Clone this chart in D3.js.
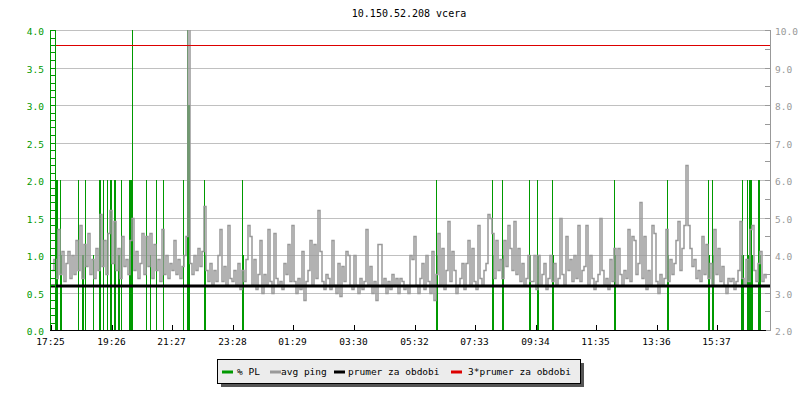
<!DOCTYPE html>
<html><head><meta charset="utf-8">
<script src="https://cdn.jsdelivr.net/npm/d3@7"></script>
<style>
body{margin:0;background:#fff}
text{font-family:"DejaVu Sans Mono",monospace}
</style>
</head><body>
<svg id="c" width="800" height="400"></svg>
<script>
const title = "10.150.52.208 vcera";
const startLabel = "17:25";
const spanMinutes = 1430;
const sampleStepMinutes = 4;
const tickLabels = ["17:25","19:26","21:27","23:28","01:29","03:30","05:32","07:33","09:34","11:35","13:36","15:37"];
const leftTicks = [0,0.5,1,1.5,2,2.5,3,3.5,4];
const rightTicks = [2,3,4,5,6,7,8,9,10];
// avg ping (ms), one value every 4 minutes from 17:25
const avgPing = [
3.6,3.9,3.4,4.7,3.5,4.1,3.3,3.8,4.1,3.4,4.0,3.5,4.4,3.6,4.8,3.4,4.3,3.7,4.6,3.5,3.9,3.4,4.2,3.6,5.1,3.7,4.4,3.5,4.6,5.2,
3.8,4.9,3.6,4.2,3.4,4.5,3.7,3.9,3.5,4.4,5.0,3.6,4.1,3.4,3.8,4.6,3.5,4.5,3.7,4.6,3.4,4.3,3.6,3.9,3.3,4.7,3.5,4.0,3.4,3.8,
3.6,4.4,3.5,3.9,3.4,3.7,4.0,4.5,12,3.8,3.5,4.0,3.6,4.2,3.7,4.1,5.3,3.6,3.3,3.8,3.2,3.6,3.3,4.0,4.7,3.3,3.7,3.2,4.8,3.4,
3.3,3.6,3.2,3.8,3.1,3.6,3.3,3.9,4.8,4.5,3.2,3.9,3.1,3.5,4.4,3.0,3.5,3.2,4.7,3.3,3.0,4.6,3.4,3.2,3.3,3.1,3.8,3.5,4.3,3.3,
4.8,3.3,3.0,3.4,3.1,4.1,2.8,3.3,3.6,4.4,3.2,4.3,3.4,5.2,4.1,3.3,3.1,3.5,3.4,3.1,4.4,3.2,3.0,3.8,2.9,3.7,3.3,4.1,4.0,3.2,
3.1,4.0,3.2,3.0,3.4,3.1,3.3,4.7,3.2,3.7,3.0,3.3,2.8,4.3,4.3,3.2,3.4,3.0,3.3,3.1,3.5,3.2,3.4,3.0,3.4,3.3,3.1,3.2,3.0,4.0,
3.9,4.5,3.2,3.0,3.4,3.8,3.1,4.0,3.3,3.0,4.1,2.8,3.5,4.6,3.2,4.2,3.1,3.6,4.9,3.3,4.1,3.6,3.0,3.2,3.4,3.8,3.1,3.8,4.4,3.2,
4.2,3.3,3.1,4.8,3.4,3.2,3.6,3.8,5.1,5.0,4.6,3.4,4.4,3.6,3.9,3.4,4.4,3.7,4.8,4.2,3.6,4.9,3.5,4.2,3.3,3.8,3.2,3.4,4.0,3.3,
3.3,4.0,3.1,4.0,3.2,3.5,3.8,3.1,3.4,4.0,3.3,3.8,3.2,3.4,5.0,3.5,3.2,4.5,3.6,3.9,3.3,4.0,3.4,4.8,3.3,3.6,3.7,4.8,3.2,4.0,
3.4,3.1,3.3,3.5,5.0,3.6,3.2,3.4,3.1,3.9,3.3,4.2,3.2,4.2,3.5,3.2,3.6,3.4,4.7,3.3,4.5,4.4,3.5,3.8,5.4,3.4,4.5,3.1,3.6,3.2,
4.8,4.6,3.3,3.0,3.5,3.2,3.4,4.7,3.3,3.9,3.5,3.8,4.4,4.9,3.6,4.2,4.8,6.4,4.8,4.2,3.7,3.9,3.4,3.6,3.3,4.5,3.5,4.3,3.4,3.8,
3.2,4.7,3.5,4.2,3.3,3.7,3.2,3.0,3.4,3.3,3.4,3.1,3.3,3.6,4.9,3.4,3.2,3.9,3.3,4.7,4.8,3.6,3.3,3.8,4.1,3.3,3.5,3.4
];
// packet loss events: minutes after 17:25 and % PL
const plMinutes = [8,10,12,18,20,54,62,64,68,84,96,98,104,112,118,120,126,128,134,136,140,156,158,160,162,190,198,210,224,264,272,274,276,306,308,382,384,770,772,882,884,902,904,956,958,972,974,1002,1004,1126,1128,1232,1234,1314,1316,1322,1324,1380,1382,1384,1392,1394,1396,1398,1400,1402,1414,1416,1418];
const plValues  = [2,2,2,2,1,2,1,1,2,1,2,2,2,2,2,2,2,2,1,1,2,2,2,2,4,2,1,2,2,2,4,3,3,2,1,2,1,2,1,2,1,2,1,2,1,2,1,2,1,2,1,2,1,2,1,2,1,1,2,1,2,1,2,2,2,1,2,2,1];
const meanPing = 3.18;
const tripleMeanPing = 9.6;
const legendLabels = ["% PL","avg ping","prumer za obdobi","3*prumer za obdobi"];

const C = {green:"#009900", gray:"#999999", black:"#000000", red:"#dd0000", grid:"#c0c0c0"};
const svg = d3.select("#c");
const L = 51, R = 766, T = 30, B = 330, RA = 770;

const [sh, sm] = startLabel.split(":").map(Number);
const base = new Date(2024, 0, 1, sh, sm);
const addMin = m => new Date(base.getTime() + m * 60000);
const x = d3.scaleTime().domain([base, addMin(spanMinutes)]).range([L + 0.5, R + 0.5]);
const yL = d3.scaleLinear().domain([0, 4]).range([B, T]);
const yR = d3.scaleLinear().domain([2, 10]).range([B, T]);

let prev = base, dayOff = 0;
const tickDates = tickLabels.map(s => {
  const [h, m] = s.split(":").map(Number);
  let d = new Date(2024, 0, 1 + dayOff, h, m);
  if (d < prev) { dayOff++; d = new Date(2024, 0, 1 + dayOff, h, m); }
  prev = d; return d;
});
const fmt = d3.timeFormat("%H:%M");

svg.append("text").attr("x", 409).attr("y", 17).attr("text-anchor", "middle")
  .attr("font-size", 10).attr("fill", "#000").text(title);

const gGrid = svg.append("g");
leftTicks.filter(v => v > 0).forEach(v => {
  const yy = Math.round(yL(v)) + 0.5;
  gGrid.append("line").attr("x1", L).attr("x2", RA).attr("y1", yy).attr("y2", yy)
    .attr("stroke", C.grid).attr("stroke-width", 1);
});

svg.append("clipPath").attr("id", "plot").append("rect")
  .attr("x", L).attr("y", T).attr("width", RA - L).attr("height", B - T);

const gData = svg.append("g").attr("clip-path", "url(#plot)");

gData.selectAll("rect.pl").data(plMinutes.map((m, i) => ({t: addMin(m), v: plValues[i]})))
  .enter().append("rect").attr("class", "pl")
  .attr("x", d => Math.floor(x(d.t))).attr("width", 1)
  .attr("y", d => yL(d.v)).attr("height", d => yL(0) - yL(d.v))
  .attr("fill", C.green);

// avg ping: step line
const pingData = avgPing.map((v, i) => ({t: addMin(i * sampleStepMinutes), v}));
gData.append("path").datum(pingData)
  .attr("d", d3.line().x(d => Math.floor(x(d.t)) + 1).y(d => Math.round(yR(d.v)) + 0.5).curve(d3.curveStepAfter))
  .attr("fill", "none").attr("stroke", C.gray).attr("stroke-width", 1.5);

svg.append("line").attr("x1", L).attr("x2", RA)
  .attr("y1", yR(tripleMeanPing) + 0.5).attr("y2", yR(tripleMeanPing) + 0.5)
  .attr("stroke", C.red).attr("stroke-width", 1);
svg.append("line").attr("x1", L).attr("x2", RA)
  .attr("y1", Math.round(yR(meanPing))).attr("y2", Math.round(yR(meanPing)))
  .attr("stroke", C.black).attr("stroke-width", 3);

const gL = svg.append("g");
gL.append("line").attr("x1", L - 0.5).attr("x2", L - 0.5).attr("y1", T).attr("y2", B)
  .attr("stroke", C.green);
gL.append("line").attr("x1", L + 4.5).attr("x2", L + 4.5).attr("y1", T).attr("y2", B)
  .attr("stroke", C.green);
d3.range(0, 41).forEach(k => {
  const yy = Math.round(yL(k / 10)) + 0.5;
  gL.append("line").attr("x1", L - 1).attr("x2", L + 5).attr("y1", yy).attr("y2", yy)
    .attr("stroke", C.green);
});
leftTicks.forEach(v => {
  gL.append("text").attr("x", 44).attr("y", yL(v) + 5).attr("text-anchor", "end")
    .attr("font-size", 9.5).attr("fill", C.green).text(v.toFixed(1));
});

const gR = svg.append("g");
gR.append("line").attr("x1", RA + 0.5).attr("x2", RA + 0.5).attr("y1", T).attr("y2", B)
  .attr("stroke", C.gray);
d3.range(0, 17).forEach(k => {
  const yy = Math.round(yR(2 + k / 2)) + 0.5;
  gR.append("line").attr("x1", RA - 5).attr("x2", RA + 1).attr("y1", yy).attr("y2", yy)
    .attr("stroke", C.gray);
});
rightTicks.forEach(v => {
  gR.append("text").attr("x", 775).attr("y", yR(v) + 5).attr("text-anchor", "start")
    .attr("font-size", 9.5).attr("fill", C.gray).text(v.toFixed(1));
});

const gB = svg.append("g");
gB.append("line").attr("x1", L - 1).attr("x2", R).attr("y1", B + 0.5).attr("y2", B + 0.5)
  .attr("stroke", "#000");
tickDates.forEach(d => {
  const xx = Math.floor(x(d)) + 0.5;
  gB.append("line").attr("x1", xx).attr("x2", xx).attr("y1", B - 5).attr("y2", B)
    .attr("stroke", "#000");
  gB.append("text").attr("x", xx - 1).attr("y", 345).attr("text-anchor", "middle")
    .attr("font-size", 9.5).attr("fill", "#000").text(fmt(d));
});

const gLeg = svg.append("g");
gLeg.append("rect").attr("x", 221).attr("y", 363).attr("width", 363).attr("height", 24).attr("fill", "#555");
gLeg.append("rect").attr("x", 217.5).attr("y", 359.5).attr("width", 363).attr("height", 24)
  .attr("fill", "#ececec").attr("stroke", "#000");
const legColors = [C.green, C.gray, C.black, C.red];
const legMarkX = [222, 270, 334, 451];
const legTextX = [237, 281, 348, 468];
legendLabels.forEach((s, i) => {
  gLeg.append("line").attr("x1", legMarkX[i]).attr("x2", legMarkX[i] + 11)
    .attr("y1", 372).attr("y2", 372).attr("stroke", legColors[i]).attr("stroke-width", 3);
  gLeg.append("text").attr("x", legTextX[i]).attr("y", 375).attr("font-size", 9.5)
    .attr("fill", "#000").text(s);
});
</script>
</body></html>
